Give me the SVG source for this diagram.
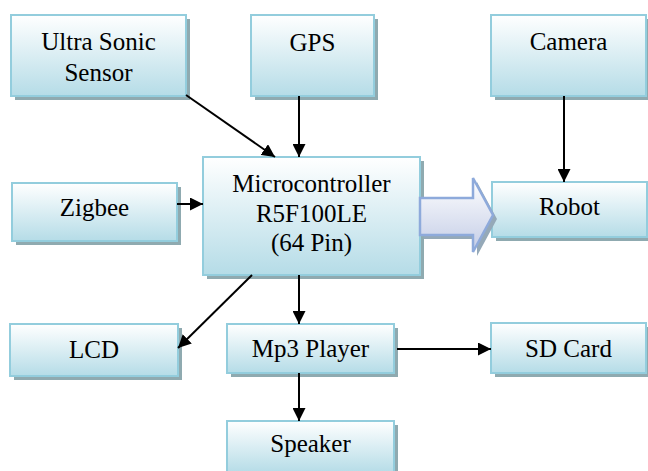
<svg xmlns="http://www.w3.org/2000/svg" width="648" height="471" viewBox="0 0 648 471">
<defs>
<linearGradient id="bg" x1="0" y1="0" x2="0" y2="1">
<stop offset="0" stop-color="#ffffff"/>
<stop offset="1" stop-color="#b5dce7"/>
</linearGradient>
<linearGradient id="ag" x1="0" y1="0" x2="0" y2="1">
<stop offset="0" stop-color="#ffffff"/>
<stop offset="1" stop-color="#c3cce6"/>
</linearGradient>
<marker id="ah" markerUnits="userSpaceOnUse" markerWidth="13" markerHeight="13" refX="13" refY="6.5" orient="auto">
<path d="M0,0 L13,6.5 L0,13 Z" fill="#000"/>
</marker>
</defs>
<style>
.sh{fill:#8faab0}
.bx{fill:url(#bg);stroke:#93cddd;stroke-width:2}
text{font-family:'Liberation Serif','Times New Roman',serif;font-size:25px;fill:#000;text-anchor:middle}
.c{stroke:#000;stroke-width:2;fill:none;marker-end:url(#ah)}
</style>
<rect width="648" height="471" fill="#fff"/>

<g id="ultrasonic">
<rect class="sh" x="15" y="19" width="175" height="81"/>
<rect class="bx" x="11" y="15" width="175" height="81"/>
<text x="98.5" y="50">Ultra Sonic</text>
<text x="98.5" y="81">Sensor</text>
</g>
<g id="gps">
<rect class="sh" x="255" y="19" width="123" height="81"/>
<rect class="bx" x="251" y="15" width="123" height="81"/>
<text x="312.5" y="51">GPS</text>
</g>
<g id="camera">
<rect class="sh" x="495" y="19" width="155" height="81"/>
<rect class="bx" x="491" y="15" width="155" height="81"/>
<text x="568.5" y="50">Camera</text>
</g>
<g id="zigbee">
<rect class="sh" x="16" y="187" width="165" height="58"/>
<rect class="bx" x="12" y="183" width="165" height="58"/>
<text x="94.5" y="216">Zigbee</text>
</g>
<g id="microcontroller">
<rect class="sh" x="207" y="161" width="217" height="118"/>
<rect class="bx" x="203" y="157" width="217" height="118"/>
<text x="311.5" y="192">Microcontroller</text>
<text x="311.5" y="222">R5F100LE</text>
<text x="311.5" y="251">(64 Pin)</text>
</g>
<g id="robot">
<rect class="sh" x="496" y="186" width="155" height="55"/>
<rect class="bx" x="492" y="182" width="155" height="55"/>
<text x="569.5" y="215">Robot</text>
</g>
<g id="lcd">
<rect class="sh" x="14" y="328" width="168" height="52"/>
<rect class="bx" x="10" y="324" width="168" height="52"/>
<text x="94" y="358">LCD</text>
</g>
<g id="mp3player">
<rect class="sh" x="231" y="328" width="167" height="49"/>
<rect class="bx" x="227" y="324" width="167" height="49"/>
<text x="310.5" y="357">Mp3 Player</text>
</g>
<g id="sdcard">
<rect class="sh" x="495" y="327" width="155" height="50"/>
<rect class="bx" x="491" y="323" width="155" height="50"/>
<text x="568.5" y="357">SD Card</text>
</g>
<g id="speaker">
<rect class="sh" x="231" y="425" width="167" height="52"/>
<rect class="bx" x="227" y="421" width="167" height="52"/>
<text x="310.5" y="452">Speaker</text>
</g>

<g id="connectors">
<line class="c" x1="186" y1="95" x2="275" y2="157"/>
<line class="c" x1="299" y1="96" x2="299" y2="157"/>
<line class="c" x1="564" y1="96" x2="564" y2="182"/>
<line class="c" x1="177" y1="204" x2="203" y2="204"/>
<line class="c" x1="252" y1="275" x2="178" y2="348"/>
<line class="c" x1="299" y1="275" x2="299" y2="324"/>
<line class="c" x1="397" y1="349" x2="491" y2="349"/>
<line class="c" x1="299" y1="373" x2="299" y2="421"/>
<g id="blockarrow">
<path d="M424,202 L477,202 L477,182 L497,219 L477,256 L477,239 L424,239 Z" fill="#95a9b8"/>
<path d="M420,198 L473,198 L473,178 L493,215 L473,252 L473,235 L420,235 Z" fill="url(#ag)" stroke="#8eaadb" stroke-width="2.5" stroke-linejoin="miter"/>
</g>
</g>
</svg>
